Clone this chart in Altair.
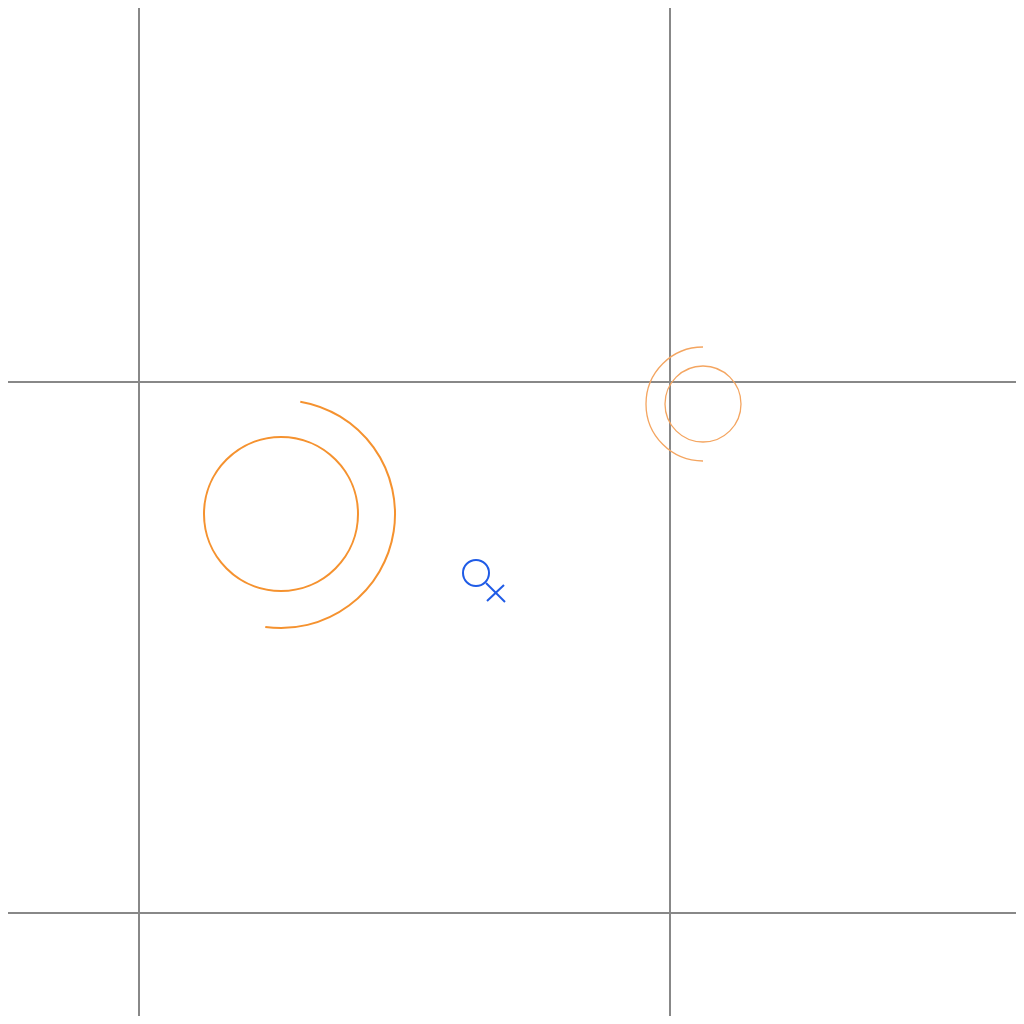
import altair as alt
import pandas as pd
import math

# grid positions (page pixels)
grid_x = [139, 670]
grid_y = [382, 913]

# rings / arcs: centre, radius, start and end angle, colour, stroke width
ring_cx = [281, 281, 703, 703, 476]
ring_cy = [514, 514, 404, 404, 573]
ring_r = [77, 114, 38, 57, 13]
ring_t0 = [0, 0.17, 0, math.pi, 0]
ring_t1 = [2 * math.pi, 3.28, 2 * math.pi, 2 * math.pi, 2 * math.pi]
ring_col = ["#f5922f", "#f5922f", "#f4a560", "#f4a560", "#1f5be6"]
ring_w = [2, 2, 1.3, 1.3, 2]

# magnifier strokes
seg_x = [486, 487]
seg_y = [583, 601]
seg_x2 = [505, 504]
seg_y2 = [602, 585]

xs = alt.Scale(domain=[8, 1016], nice=False, zero=False)
ys = alt.Scale(domain=[8, 1016], nice=False, zero=False, reverse=True)

vgrid = alt.Chart(pd.DataFrame({"x": grid_x})).mark_rule(color="#888888", strokeWidth=2).encode(
    x=alt.X("x:Q", scale=xs, axis=None))
hgrid = alt.Chart(pd.DataFrame({"y": grid_y})).mark_rule(color="#888888", strokeWidth=2).encode(
    y=alt.Y("y:Q", scale=ys, axis=None))

rings_df = pd.DataFrame({"cx": ring_cx, "cy": ring_cy, "r": ring_r, "t0": ring_t0,
                         "t1": ring_t1, "col": ring_col, "w": ring_w})
rings = alt.Chart(rings_df).mark_arc(filled=False, fillOpacity=0).encode(
    x=alt.X("cx:Q", scale=xs, axis=None),
    y=alt.Y("cy:Q", scale=ys, axis=None),
    theta=alt.Theta("t0:Q", scale=None),
    theta2="t1:Q",
    radius=alt.Radius("r:Q", scale=None),
    radius2="r:Q",
    stroke=alt.Stroke("col:N", scale=None),
    strokeWidth=alt.StrokeWidth("w:Q", scale=None),
)

segs = alt.Chart(pd.DataFrame({"x": seg_x, "y": seg_y, "x2": seg_x2, "y2": seg_y2})).mark_rule(
    color="#1f5be6", strokeWidth=2).encode(
    x=alt.X("x:Q", scale=xs, axis=None), y=alt.Y("y:Q", scale=ys, axis=None), x2="x2:Q", y2="y2:Q")

chart = alt.layer(vgrid, hgrid, rings, segs).properties(
    width=1008, height=1008, padding=0, autosize=alt.AutoSizeParams(type="none")
).configure_view(stroke=None)

chart.save("out.html", embed_options={"renderer": "svg", "actions": False})
